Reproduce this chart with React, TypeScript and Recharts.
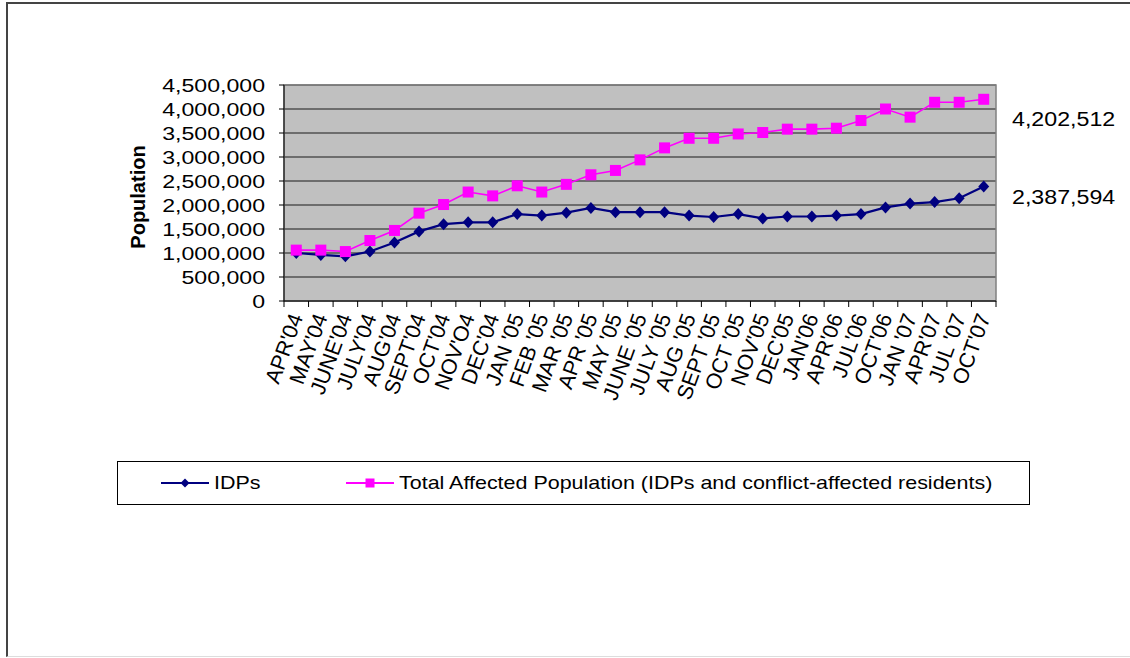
import React from 'react';
import { LineChart, Line, XAxis, YAxis, CartesianGrid, Legend, ReferenceArea } from 'recharts';

const categories = [
  "APR'04", "MAY'04", "JUNE'04", "JULY'04", "AUG'04", "SEPT'04", "OCT'04", "NOV'O4", "DEC'04",
  "JAN '05", "FEB '05", "MAR '05", "APR '05", "MAY '05", "JUNE '05", "JULY '05", "AUG '05", "SEPT '05",
  "OCT '05", "NOV'05", "DEC'05", "JAN'06", "APR'06", "JUL'06", "OCT'06", "JAN '07", "APR'07", "JUL '07", "OCT'07",
];

const idps = [
  1000000, 960000, 930000, 1030000, 1220000, 1450000, 1600000, 1640000, 1640000,
  1810000, 1780000, 1840000, 1940000, 1850000, 1850000, 1850000, 1780000, 1750000,
  1810000, 1720000, 1760000, 1760000, 1780000, 1810000, 1950000, 2030000, 2060000, 2140000, 2387594,
];

const totalAffected = [
  1060000, 1060000, 1030000, 1260000, 1470000, 1830000, 2010000, 2270000, 2190000,
  2400000, 2270000, 2430000, 2630000, 2720000, 2940000, 3190000, 3390000, 3390000,
  3480000, 3510000, 3580000, 3580000, 3600000, 3760000, 4000000, 3830000, 4140000, 4140000, 4202512,
];

const yTicks = [0, 500000, 1000000, 1500000, 2000000, 2500000, 3000000, 3500000, 4000000, 4500000];

const seriesNames = ['IDPs', 'Total Affected Population (IDPs and conflict-affected residents)'];

const data = categories.map((c, i) => ({ idx: i, label: c, idps: idps[i], total: totalAffected[i] }));
const xTicks = [-0.5, ...categories.flatMap((_, i) => [i, i + 0.5])];

const FONT = '"Liberation Sans", Arial, sans-serif';
const NAVY = '#000080';
const MAGENTA = '#FF00FF';
const fmt = (v: number) => v.toLocaleString('en-US');

const XTick = (props: any) => {
  const { x, y, payload } = props;
  const v = payload.value as number;
  if (Math.abs(v - Math.round(v)) > 0.1) {
    return <line x1={x} x2={x} y1={y - 6} y2={y} stroke="#000" strokeWidth={1} />;
  }
  const label = categories[Math.round(v)];
  const ax = x + 7;
  const ay = y + 10;
  return (
    <text x={ax} y={ay} transform={`rotate(-70, ${ax}, ${ay})`} textAnchor="end" fontSize={21.5} fontFamily={FONT} fill="#000">
      {label}
    </text>
  );
};

const YTick = (props: any) => {
  const { x, y, payload } = props;
  return (
    <g transform={`translate(${x},${y}) scale(1.25,1)`}>
      <text x={0} y={0} dy="0.36em" textAnchor="end" fontSize={18.5} fontFamily={FONT} fill="#000">
        {fmt(payload.value)}
      </text>
    </g>
  );
};

const YLabel = (props: any) => {
  const { viewBox } = props;
  const cx = viewBox.x + 14;
  const cy = viewBox.y + viewBox.height / 2 + 4;
  return (
    <text x={cx} y={cy} transform={`rotate(-90, ${cx}, ${cy})`} textAnchor="middle" dominantBaseline="central"
      fontSize={20} fontWeight="bold" fontFamily={FONT} fill="#000">
      Population
    </text>
  );
};

const Diamond = (props: any) => {
  const { cx, cy, index } = props;
  if (cx == null || cy == null) return <g key={index} />;
  return <path key={index} d={`M${cx},${cy - 6}L${cx + 5.5},${cy}L${cx},${cy + 6}L${cx - 5.5},${cy}Z`} fill={NAVY} />;
};

const Square = (props: any) => {
  const { cx, cy, index } = props;
  if (cx == null || cy == null) return <g key={index} />;
  return <rect key={index} x={cx - 5.5} y={cy - 5.5} width={11} height={11} fill={MAGENTA} />;
};

const legendItemLeft = [43, 228];

const renderLegend = (props: any) => {
  const payload = props.payload || [];
  return (
    <div style={{ boxSizing: 'border-box', width: 913, height: 44, border: '1px solid #000', position: 'relative', background: '#fff' }}>
      {payload.map((entry: any, i: number) => (
        <div key={i} style={{ position: 'absolute', left: legendItemLeft[i], top: 0, height: 42, display: 'flex', alignItems: 'center', whiteSpace: 'nowrap' }}>
          <svg width={50} height={14} style={{ display: 'block' }}>
            <line x1={0} x2={48} y1={7} y2={7} stroke={entry.color} strokeWidth={2} />
            {i === 0 ? (
              <path d="M24,2.5L28.5,7L24,11.5L19.5,7Z" fill={entry.color} />
            ) : (
              <rect x={19.5} y={2.5} width={9} height={9} fill={entry.color} />
            )}
          </svg>
          <span style={{ display: 'inline-block', marginLeft: 3, fontFamily: FONT, fontSize: 18.5, color: '#000', transform: 'scaleX(1.16)', transformOrigin: 'left center' }}>
            {entry.value}
          </span>
        </div>
      ))}
    </div>
  );
};

const endLabels = [
  { text: fmt(totalAffected[totalAffected.length - 1]), top: 109 },
  { text: fmt(idps[idps.length - 1]), top: 187 },
];

export default function App() {
  return (
    <div style={{ position: 'absolute', left: 0, top: 0, width: 1130, height: 658, background: '#fff', overflow: 'hidden' }}>
      <div style={{ position: 'absolute', left: 6, top: 2, width: 1124, height: 655, borderLeft: '2px solid #444', borderTop: '2px solid #444', borderBottom: '1px solid #ddd', boxSizing: 'border-box' }} />
      <div style={{ position: 'absolute', left: 0, top: 0 }}>
        <LineChart width={1130} height={658} data={data} margin={{ top: 85, right: 134, bottom: 257, left: 124 }}>
          <CartesianGrid vertical={false} stroke="#1a1a1a" fill="#C0C0C0" fillOpacity={1} />
          <ReferenceArea x1={-0.5} x2={28.5} y1={0} y2={4500000} fill="none" stroke="#808080" strokeWidth={1.5} />
          <XAxis
            dataKey="idx"
            type="number"
            domain={[-0.5, 28.5]}
            ticks={xTicks}
            interval={0}
            height={100}
            tickLine={false}
            tickSize={6}
            tickMargin={0}
            axisLine={{ stroke: '#000' }}
            tick={<XTick />}
          />
          <YAxis
            type="number"
            domain={[0, 4500000]}
            ticks={yTicks}
            interval={0}
            width={160}
            tickSize={5}
            tickMargin={14}
            tickLine={{ stroke: '#000' }}
            axisLine={{ stroke: '#000' }}
            tick={<YTick />}
            label={<YLabel />}
          />
          <Legend layout="horizontal" verticalAlign="middle" align="center"
            wrapperStyle={{ left: 117, top: 461, width: 913, height: 44 }} content={renderLegend} />
          <Line name={seriesNames[0]} dataKey="idps" stroke={NAVY} strokeWidth={2.2} dot={Diamond} activeDot={false} isAnimationActive={false} />
          <Line name={seriesNames[1]} dataKey="total" stroke={MAGENTA} strokeWidth={1.6} dot={Square} activeDot={false} isAnimationActive={false} />
        </LineChart>
      </div>
      {endLabels.map((l, i) => (
        <div key={i} style={{ position: 'absolute', left: 1012, top: l.top, fontFamily: FONT, fontSize: 20, lineHeight: '20px', color: '#000', transform: 'scaleX(1.16)', transformOrigin: 'left center', whiteSpace: 'nowrap' }}>
          {l.text}
        </div>
      ))}
    </div>
  );
}
